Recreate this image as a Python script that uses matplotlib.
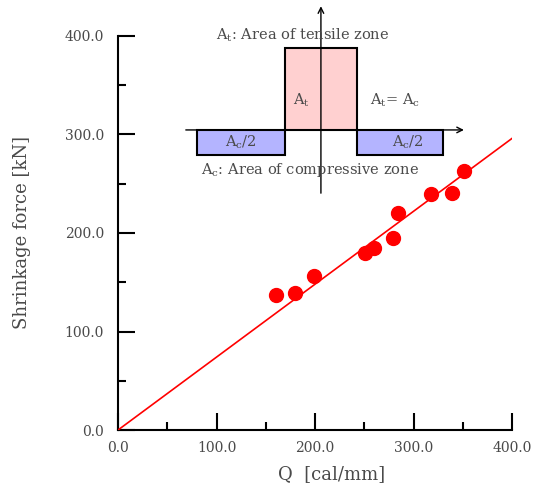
import matplotlib
matplotlib.use("Agg")
import matplotlib.pyplot as plt
from matplotlib.patches import Rectangle
from matplotlib.ticker import MultipleLocator, FormatStrFormatter

# measured points
q = [160, 180, 199, 251, 260, 279, 284, 318, 339, 351]
force = [137, 139, 156, 180, 185, 195, 220, 240, 241, 263]
# fitted line through origin
fit_x = [0, 400]
fit_y = [0, 296]

plt.rcParams['font.family'] = ['DejaVu Serif']
plt.rcParams['mathtext.fontset'] = 'dejavuserif'
grey = '#4a4a4a'

fig = plt.figure(figsize=(5.35, 4.86), dpi=100)
ax = fig.add_axes([0.2206, 0.1152, 0.7364, 0.8108])

ax.plot(fit_x, fit_y, color='red', lw=1.2, zorder=3)
ax.plot(q, force, 'o', color='red', markersize=10, zorder=4)

ax.set_xlim(0, 400)
ax.set_ylim(0, 400)
for s in ['top', 'right']:
    ax.spines[s].set_visible(False)
for s in ['left', 'bottom']:
    ax.spines[s].set_linewidth(1.5)
ax.xaxis.set_major_locator(MultipleLocator(100))
ax.xaxis.set_minor_locator(MultipleLocator(50))
ax.yaxis.set_major_locator(MultipleLocator(100))
ax.yaxis.set_minor_locator(MultipleLocator(50))
ax.xaxis.set_major_formatter(FormatStrFormatter('%.1f'))
ax.yaxis.set_major_formatter(FormatStrFormatter('%.1f'))
ax.tick_params(which='major', direction='in', length=12, width=1.5, labelsize=10, labelcolor=grey)
ax.tick_params(which='minor', direction='in', length=6, width=1.5)
ax.tick_params(axis='y', which='major', pad=10)
ax.tick_params(axis='x', which='major', pad=8)
ax.set_xlabel('Q  [cal/mm]', fontsize=13, color=grey)
ax.xaxis.set_label_coords(0.543, -0.089)
ax.set_ylabel('Shrinkage force [kN]', fontsize=13, color=grey, labelpad=24)

# inset sketch of tensile / compressive zones
ax.add_patch(Rectangle((169.5, 304.6), 73.1, 83.2, facecolor='#ffd0d0', edgecolor='black', lw=1.5, zorder=2))
ax.add_patch(Rectangle((80.2, 279.2), 89.3, 25.4, facecolor='#b4b4ff', edgecolor='black', lw=1.5, zorder=2))
ax.add_patch(Rectangle((242.6, 279.2), 87.4, 25.4, facecolor='#b4b4ff', edgecolor='black', lw=1.5, zorder=2))
ax.annotate('', xy=(354, 304.6), xytext=(66, 304.6),
            arrowprops=dict(arrowstyle='->', color='black', lw=1.0), annotation_clip=False, zorder=3)
ax.annotate('', xy=(206, 433), xytext=(206, 237.6),
            arrowprops=dict(arrowstyle='->', color='black', lw=1.0), annotation_clip=False, zorder=3)

fs = 10.5
ax.text(187, 401, r'A$_\mathregular{t}$: Area of tensile zone', fontsize=fs, color=grey, ha='center', va='center')
ax.text(186, 335, r'A$_\mathregular{t}$', fontsize=fs, color=grey, ha='center', va='center')
ax.text(281, 335, r'A$_\mathregular{t}$= A$_\mathregular{c}$', fontsize=fs, color=grey, ha='center', va='center')
ax.text(125, 292, r'A$_\mathregular{c}$/2', fontsize=fs, color=grey, ha='center', va='center')
ax.text(294, 292, r'A$_\mathregular{c}$/2', fontsize=fs, color=grey, ha='center', va='center')
ax.text(195, 264, r'A$_\mathregular{c}$: Area of compressive zone', fontsize=fs, color=grey, ha='center', va='center')

fig.savefig('out.png', dpi=100)
